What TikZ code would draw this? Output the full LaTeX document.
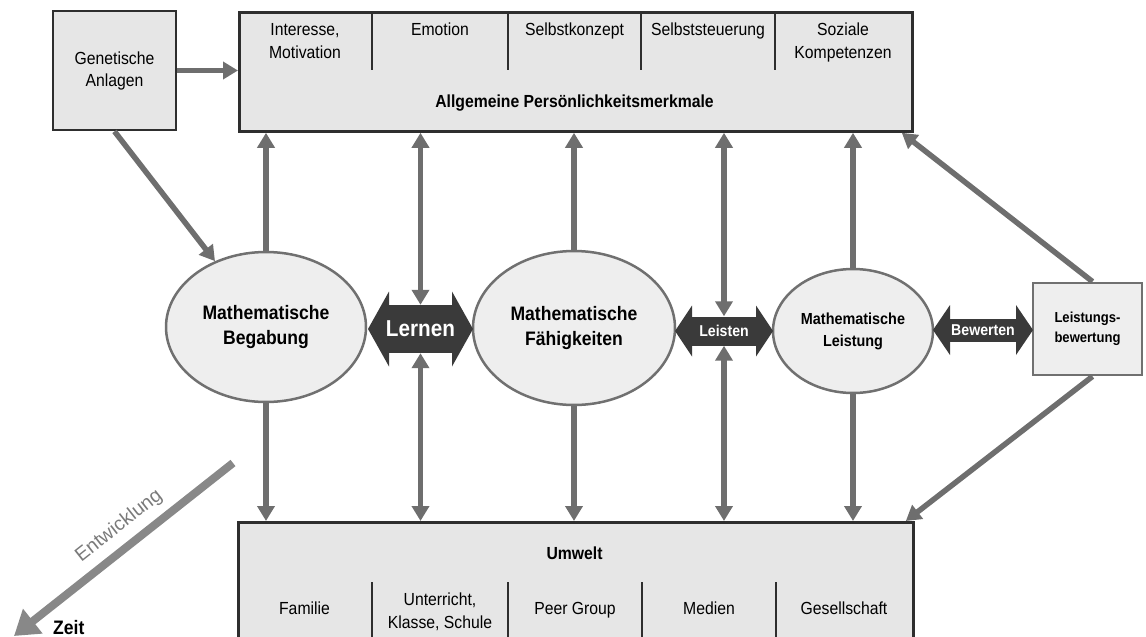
\documentclass[tikz,border=0pt]{standalone}
\usepackage{fontspec}
\setmainfont{Liberation Sans}[FakeStretch=0.9]
\newfontfamily\plainsans{Liberation Sans}
\usetikzlibrary{shapes.geometric,arrows.meta,calc}

\definecolor{boxfill}{HTML}{E6E6E6}
\definecolor{ellfill}{HTML}{EEEEEE}
\definecolor{frame}{HTML}{2E2E2E}
\definecolor{ellline}{HTML}{707070}
\definecolor{conn}{HTML}{6E6E6E}
\definecolor{dark}{HTML}{3A3A3A}
\definecolor{timeline}{HTML}{888888}
\definecolor{timetext}{HTML}{7A7A7A}

\begin{document}
\begin{tikzpicture}[x=1pt,y=-1pt,
  panel/.style={draw=frame, line width=2.8pt, fill=boxfill, inner sep=0pt, anchor=north west},
  divider/.style={draw=frame, line width=2pt},
  toplabel/.style={anchor=north, align=center, inner sep=0pt, font=\fontsize{17.5}{23}\selectfont},
  rowlabel/.style={anchor=base, inner sep=0pt, font=\fontsize{17.5}{23}\selectfont},
  heading/.style={anchor=base, inner sep=0pt, font=\bfseries\fontsize{17.5}{23}\selectfont},
  ell/.style={ellipse, draw=ellline, line width=2.5pt, fill=ellfill, align=center, inner sep=0pt},
  shaft/.style={fill=dark, text=white, inner sep=0pt, font=\bfseries\fontsize{15.7}{19}\selectfont},
  conn/.style={draw=conn, line width=5.5pt, -{Triangle[length=15pt,width=17pt]}},
  conntwo/.style={draw=conn, line width=5.5pt, {Triangle[length=15pt,width=17pt]}-{Triangle[length=15pt,width=17pt]}},
  devarrow/.style={draw=timeline, line width=8pt, -{Triangle[length=24pt,width=30pt]}},
]
\useasboundingbox (0,0) rectangle (1146,637);
\clip (0,0) rectangle (1146,637);

% --- genetic disposition
\node[draw=frame, line width=2.8pt, fill=boxfill, minimum width=123, minimum height=119,
      align=center, inner sep=0pt, font=\fontsize{17.5}{22}\selectfont]
      (gen) at (114.5,70.5) {Genetische\\Anlagen};

% --- general personality traits
\node[panel, minimum width=673, minimum height=119] (pers) at (238,11) {};
\foreach \x in {372,508,641,775} \draw[divider] (\x,11) -- (\x,70);
\node[toplabel] (t-int) at (305,23) {Interesse,\\Motivation};
\node[toplabel] (t-emo) at (440,23) {Emotion};
\node[toplabel] (t-sk) at (574.5,23) {Selbstkonzept};
\node[toplabel] (t-ss) at (708,23) {Selbststeuerung};
\node[toplabel] (t-soz) at (843,23) {Soziale\\Kompetenzen};
\node[heading] (t-head) at (574.5,107.5) {Allgemeine Persönlichkeitsmerkmale};

% --- environment
\node[panel, minimum width=675, minimum height=140] (env) at (237,521) {};
\foreach \x in {372,508,642,776} \draw[divider] (\x,582) -- (\x,661);
\node[heading] (b-head) at (574.5,559) {Umwelt};
\node[rowlabel] (b-fam) at (304.5,614.5) {Familie};
\node[toplabel] (b-unt) at (440,592.5) {Unterricht,\\Klasse, Schule};
\node[rowlabel] (b-peer) at (575,614.5) {Peer Group};
\node[rowlabel] (b-med) at (709,614.5) {Medien};
\node[rowlabel] (b-ges) at (844,614.5) {Gesellschaft};

% --- central chain
\node[ell, minimum width=200, minimum height=150, font=\bfseries\fontsize{19.5}{25}\selectfont]
      (beg) at (266,327) {Mathematische\\Begabung};
\node[ell, minimum width=202, minimum height=154, font=\bfseries\fontsize{19.5}{25}\selectfont]
      (fah) at (574,328) {Mathematische\\Fähigkeiten};
\node[ell, minimum width=160, minimum height=124, font=\bfseries\fontsize{16}{22}\selectfont]
      (lst) at (853,331) {Mathematische\\Leistung};
\node[draw=ellline, line width=2.8pt, fill=ellfill, minimum width=109, minimum height=92,
      align=left, inner sep=0pt, font=\bfseries\fontsize{14.5}{20}\selectfont]
      (bew) at (1087.5,329) {Leistungs-\\bewertung};

% --- process arrows: triangular heads first, then the shaft node with its label
\coordinate (lern-c) at (420.5,329);
\fill[dark] ($(lern-c)+(-31.5,-37.5)$) -- ++(-21,37.5) -- ++(21,37.5) -- cycle;
\fill[dark] ($(lern-c)+(31.5,-37.5)$) -- ++(21,37.5) -- ++(-21,37.5) -- cycle;
\node[shaft, minimum width=63, minimum height=48, font=\bfseries\fontsize{23}{27}\selectfont]
      (lern) at (lern-c) {Lernen};

\coordinate (leis-c) at (724,331);
\fill[dark] ($(leis-c)+(-32,-25.5)$) -- ++(-17,25.5) -- ++(17,25.5) -- cycle;
\fill[dark] ($(leis-c)+(32,-25.5)$) -- ++(17,25.5) -- ++(-17,25.5) -- cycle;
\node[shaft, minimum width=64, minimum height=29] (leis) at (leis-c) {Leisten};

\coordinate (bwt-c) at (983,330);
\fill[dark] ($(bwt-c)+(-33,-25)$) -- ++(-17,25) -- ++(17,25) -- cycle;
\fill[dark] ($(bwt-c)+(33,-25)$) -- ++(17,25) -- ++(-17,25) -- cycle;
\node[shaft, minimum width=66, minimum height=23] (bwt) at (bwt-c) {Bewerten};

% --- connectors
\draw[conn] (gen.east) -- (gen.east -| pers.west);
\draw[conn] (gen.south) -- (beg);

\draw[conn] (beg.north) -- (beg.north |- pers.south);
\draw[conn] (beg.south) -- (beg.south |- env.north);
\draw[conntwo] (lern.north) -- (lern.north |- pers.south);
\draw[conntwo] (lern.south) -- (lern.south |- env.north);
\draw[conn] (fah.north) -- (fah.north |- pers.south);
\draw[conn] (fah.south) -- (fah.south |- env.north);
\draw[conntwo] (leis.north) -- (leis.north |- pers.south);
\draw[conntwo] (leis.south) -- (leis.south |- env.north);
\draw[conn] (lst.north) -- (lst.north |- pers.south);
\draw[conn] (lst.south) -- (lst.south |- env.north);

\draw[conn] ([xshift=5pt]bew.north) -- ([xshift=-12pt]pers.south east);
\draw[conn] ([xshift=5pt]bew.south) -- ([xshift=-9pt]env.north east);

% --- development over time
\coordinate (dev-start) at (233,463);
\coordinate (dev-end) at (14,636);
\draw[devarrow] (dev-start) -- (dev-end)
  node[pos=0.46, sloped, above=8pt, inner sep=0pt, text=timetext,
       font=\plainsans\fontsize{19.5}{23}\selectfont] (dev-label) {Entwicklung};
\node[anchor=base west, inner sep=0pt, font=\bfseries\fontsize{19.5}{23}\selectfont]
      (zeit) at (53,634) {Zeit};
\end{tikzpicture}
\end{document}
